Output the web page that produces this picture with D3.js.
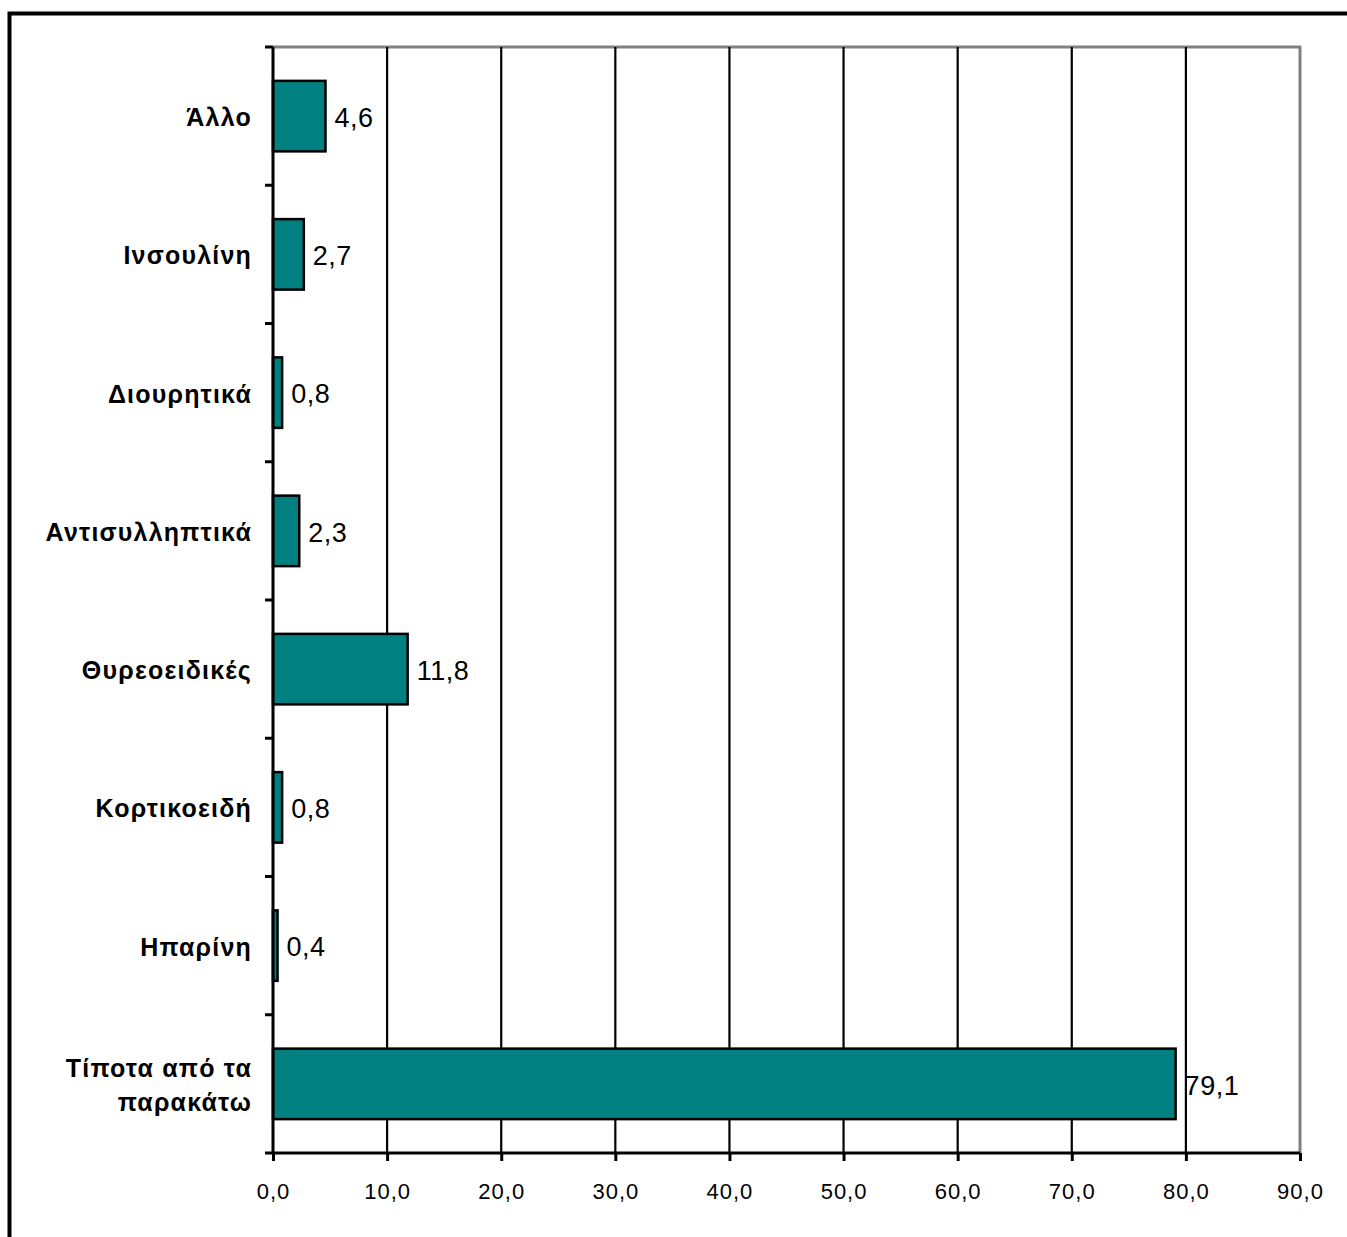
<!DOCTYPE html>
<html>
<head>
<meta charset="utf-8">
<script src="https://cdn.jsdelivr.net/npm/d3@7"></script>
<style>
  html, body { margin: 0; padding: 0; background: #fff; }
  svg { display: block; }
  text { font-family: "Liberation Sans", Arial, sans-serif; }
</style>
</head>
<body>
<svg id="chart" width="1347" height="1237"></svg>
<script>
// Categories from top to bottom, with percentages
const categories = [
  "Άλλο",
  "Ινσουλίνη",
  "Διουρητικά",
  "Αντισυλληπτικά",
  "Θυρεοειδικές",
  "Κορτικοειδή",
  "Ηπαρίνη",
  "Τίποτα από τα|παρακάτω"
];
const values = [4.6, 2.7, 0.8, 2.3, 11.8, 0.8, 0.4, 79.1];
const xTicks = [0, 10, 20, 30, 40, 50, 60, 70, 80, 90];

const svg = d3.select("#chart");

// Outer frame (open on the right and bottom edges)
svg.append("rect")
  .attr("x", 9.5).attr("y", 13.5)
  .attr("width", 1400).attr("height", 1300)
  .attr("fill", "none").attr("stroke", "#000").attr("stroke-width", 4);

const plot = { left: 273, right: 1300, top: 47, bottom: 1153 };

const x = d3.scaleLinear().domain([0, 90]).range([plot.left, plot.right]);
const y = d3.scaleBand().domain(categories).range([plot.top, plot.bottom])
  .paddingInner(0.49).paddingOuter(0.245);

const fmt = v => v.toFixed(1).replace(".", ",");

// Plot frame: grey top and right edges
svg.append("path")
  .attr("d", `M${plot.left},${plot.top}H${plot.right}V${plot.bottom}`)
  .attr("fill", "none").attr("stroke", "#808080").attr("stroke-width", 3);

// Vertical gridlines
svg.append("g").selectAll("line")
  .data(xTicks.filter(t => t > 0 && t < 90))
  .join("line")
  .attr("x1", d => x(d)).attr("x2", d => x(d))
  .attr("y1", plot.top).attr("y2", plot.bottom)
  .attr("stroke", "#000").attr("stroke-width", 2.2);

// Bars
svg.append("g").selectAll("rect")
  .data(values)
  .join("rect")
  .attr("x", x(0))
  .attr("y", (d, i) => y(categories[i]))
  .attr("width", d => x(d) - x(0))
  .attr("height", y.bandwidth())
  .attr("fill", "#008080")
  .attr("stroke", "#000").attr("stroke-width", 2.5);

// Value labels
svg.append("g").selectAll("text")
  .data(values)
  .join("text")
  .attr("x", d => x(d) + 9)
  .attr("y", (d, i) => y(categories[i]) + y.bandwidth() / 2)
  .attr("dy", "0.4em")
  .attr("font-size", 27)
  .attr("letter-spacing", "0.5px")
  .attr("fill", "#000")
  .text(d => fmt(d));

// X axis
const xAxis = d3.axisBottom(x).tickValues(xTicks).tickSize(8).tickFormat(fmt);
const gx = svg.append("g").attr("transform", `translate(0,${plot.bottom})`).call(xAxis);
gx.select(".domain").attr("stroke", "#000").attr("stroke-width", 3)
  .attr("d", `M${plot.left},0H${plot.right}`);
gx.selectAll(".tick line").attr("stroke", "#000").attr("stroke-width", 3);
gx.selectAll(".tick text")
  .attr("font-size", 22).attr("fill", "#000")
  .attr("letter-spacing", "1px")
  .attr("font-family", "'Liberation Sans', Arial, sans-serif")
  .attr("y", 46).attr("dy", 0);

// Y axis: ticks at band boundaries, labels centred in each band
const boundaries = d3.range(categories.length + 1)
  .map(i => plot.top + i * (plot.bottom - plot.top) / categories.length);
const gy = svg.append("g");
gy.append("line")
  .attr("x1", plot.left).attr("x2", plot.left)
  .attr("y1", plot.top).attr("y2", plot.bottom)
  .attr("stroke", "#000").attr("stroke-width", 3);
gy.selectAll("line.tk")
  .data(boundaries)
  .join("line").attr("class", "tk")
  .attr("x1", plot.left - 8).attr("x2", plot.left)
  .attr("y1", d => d).attr("y2", d => d)
  .attr("stroke", "#000").attr("stroke-width", 3);

const labelSize = 25;
const labels = gy.selectAll("text.cat")
  .data(categories)
  .join("text").attr("class", "cat")
  .attr("x", 252)
  .attr("y", d => y(d) + y.bandwidth() / 2)
  .attr("text-anchor", "end")
  .attr("font-size", labelSize)
  .attr("font-weight", "bold")
  .attr("letter-spacing", "1.2px")
  .attr("fill", "#000");
labels.each(function(d) {
  const lines = d.split("|");
  const t = d3.select(this);
  const lh = 34;
  lines.forEach((ln, i) => {
    t.append("tspan")
      .attr("x", 252)
      .attr("dy", i === 0 ? `${0.4 * labelSize - (lines.length - 1) * lh / 2}px` : `${lh}px`)
      .text(ln);
  });
});
</script>
</body>
</html>
